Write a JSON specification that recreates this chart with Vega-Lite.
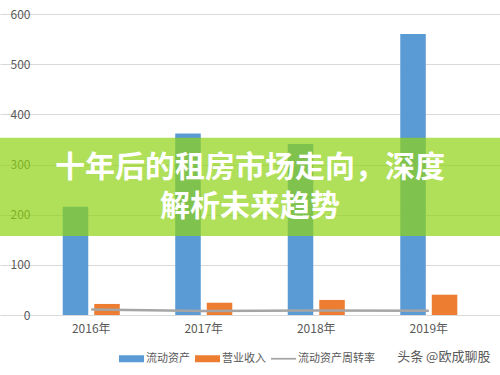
{
  "$schema": "https://vega.github.io/schema/vega-lite/v6.json",
  "width": 500,
  "height": 301,
  "autosize": {"type": "none"},
  "padding": {"left": 0, "top": 14, "right": 0, "bottom": 60},
  "background": "white",
  "config": {
    "view": {"stroke": null},
    "font": "Noto Sans CJK SC",
    "axis": {"labelFont": "Noto Sans CJK SC", "labelColor": "#595959", "labelFontSize": 12}
  },
  "data": {
    "values": [
      {"year": "2016年", "series": "流动资产", "value": 216},
      {"year": "2016年", "series": "营业收入", "value": 22},
      {"year": "2016年", "series": "流动资产周转率", "value": 11},
      {"year": "2017年", "series": "流动资产", "value": 362},
      {"year": "2017年", "series": "营业收入", "value": 24.5},
      {"year": "2017年", "series": "流动资产周转率", "value": 8},
      {"year": "2018年", "series": "流动资产", "value": 341},
      {"year": "2018年", "series": "营业收入", "value": 30},
      {"year": "2018年", "series": "流动资产周转率", "value": 9},
      {"year": "2019年", "series": "流动资产", "value": 560},
      {"year": "2019年", "series": "营业收入", "value": 40.5},
      {"year": "2019年", "series": "流动资产周转率", "value": 8.5}
    ]
  },
  "layer": [
    {
      "transform": [{"filter": "datum.series !== '流动资产周转率'"}],
      "mark": {"type": "bar"},
      "encoding": {
        "x": {
          "field": "year", "type": "nominal", "sort": null,
          "scale": {"paddingInner": 0.493, "paddingOuter": 0.4685, "align": 0.595},
          "axis": {"title": null, "labelAngle": 0, "domain": false, "ticks": false, "labelPadding": 8}
        },
        "xOffset": {"field": "series", "type": "nominal", "sort": ["流动资产", "营业收入"], "scale": {"paddingInner": 0.19}},
        "y": {
          "field": "value", "type": "quantitative",
          "scale": {"domain": [0, 600], "nice": false},
          "axis": {"title": null, "values": [0, 100, 200, 300, 400, 500, 600], "labelOverlap": false, "domain": false, "ticks": false, "tickSize": 0, "offset": -35, "labelPadding": 5, "gridColor": "#d9d9d9", "gridWidth": 1}
        },
        "color": {
          "field": "series", "type": "nominal",
          "scale": {"domain": ["流动资产", "营业收入", "流动资产周转率"], "range": ["#5b9bd5", "#ed7d31", "#a5a5a5"]},
          "legend": {
            "title": null, "orient": "none", "direction": "horizontal",
            "legendX": 119, "legendY": 332,
            "labelFontSize": 11, "labelColor": "#595959", "labelFont": "Noto Sans CJK SC",
            "labelOffset": 2, "columnPadding": 5, "symbolSize": 625,
            "symbolType": "M-1,-0.28H1V0.28H-1Z",
            "encode": {
              "symbols": {
                "update": {
                  "shape": {"signal": "datum.value === '流动资产周转率' ? 'M-1,-0.07H1V0.07H-1Z' : 'M-1,-0.28H1V0.28H-1Z'"},
                  "fill": {"scale": "color", "field": "value"},
                  "strokeWidth": {"value": 0},
                  "opacity": {"value": 1}
                }
              }
            }
          }
        }
      }
    },
    {
      "transform": [{"filter": "datum.series === '流动资产周转率'"}],
      "mark": {"type": "line", "strokeWidth": 2.5},
      "encoding": {
        "x": {"field": "year", "type": "nominal", "sort": null},
        "y": {"field": "value", "type": "quantitative"},
        "color": {"field": "series", "type": "nominal"}
      }
    },
    {
      "data": {"values": [{"band": "overlay"}]},
      "mark": {"type": "rect", "fill": "#8ed313", "opacity": 0.7},
      "encoding": {
        "y": {"datum": 157.5},
        "y2": {"datum": 353.4}
      }
    },
    {
      "data": {"values": [{"line": 1, "label": "十年后的租房市场走向，深度"}]},
      "mark": {"type": "text", "fontSize": 30, "fontWeight": "bold", "fill": "white", "font": "Noto Sans CJK SC", "baseline": "middle", "align": "center"},
      "encoding": {
        "y": {"datum": 293},
        "text": {"field": "label"}
      }
    },
    {
      "data": {"values": [{"line": 2, "label": "解析未来趋势"}]},
      "mark": {"type": "text", "fontSize": 30, "fontWeight": "bold", "fill": "white", "font": "Noto Sans CJK SC", "baseline": "middle", "align": "center"},
      "encoding": {
        "y": {"datum": 216},
        "text": {"field": "label"}
      }
    },
    {
      "data": {"values": [{"label": "头条 @欧成聊股"}]},
      "mark": {"type": "text", "fontSize": 13, "fill": "#595959", "font": "Noto Sans CJK SC", "baseline": "middle", "align": "center", "dx": 15},
      "encoding": {
        "x": {"datum": "2019年"},
        "y": {"datum": -83},
        "text": {"field": "label"}
      }
    }
  ]
}
